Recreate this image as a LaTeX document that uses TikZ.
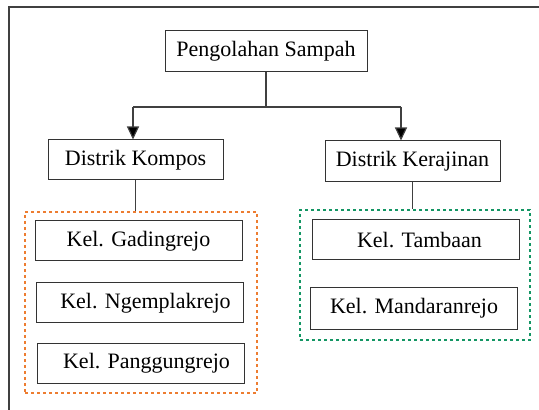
\documentclass[tikz,border=0pt]{standalone}
\usepackage{fontspec}
\setmainfont{Liberation Serif}
\usetikzlibrary{arrows.meta,positioning,calc}
\definecolor{kompos}{RGB}{237,125,49}
\definecolor{kerajinan}{RGB}{20,150,100}
\tikzset{
  box/.style={draw=black!80,line width=0.5pt,inner sep=0pt,font=\fontsize{11}{13}\selectfont},
  unit/.style={box,minimum width=103.5pt,minimum height=20pt},
  group/.style={line width=0.8pt,dash pattern=on 1.4pt off 1.6pt,inner sep=0pt},
  link/.style={draw=black!75,line width=0.6pt},
  down/.style={link,-{Triangle[width=6pt,length=6.5pt,fill=black]}},
}
\begin{document}
\begin{tikzpicture}[x=0.5pt,y=-0.5pt]
\useasboundingbox (0,0) rectangle (539,410);
\draw[black!75,line width=0.6pt] (9,410)--(9,7)--(539,7);
\node (top) at (266,51.5) [box,minimum width=101pt,minimum height=20.5pt] {Pengolahan Sampah};
\node (kompos) at (135.5,160) [box,minimum width=87.5pt,minimum height=20pt] {Distrik Kompos};
\node (kerajinan) at (412.5,161.5) [box,minimum width=87.5pt,minimum height=20.5pt] {Distrik Kerajinan};
\node (grpA) at (141,302.5) [group,draw=kompos,minimum width=116pt,minimum height=90.5pt] {};
\node (grpB) at (415,275) [group,draw=kerajinan,minimum width=115pt,minimum height=65pt] {};
\node (gading) at (138.5,241) [unit] {Kel. Gadingrejo};
\node (ngemplak) at (139.5,303) [unit] {\hspace{6pt}Kel. Ngemplakrejo};
\node (panggung) at (140.5,363) [unit] {\hspace{6pt}Kel. Panggungrejo};
\node (tambaan) at (415.5,240) [unit] {\hspace{4pt}Kel. Tambaan};
\node (mandaran) at (414,308.5) [unit,minimum height=20.5pt] {Kel. Mandaranrejo};
\coordinate (split) at (266,107);
\coordinate (jl) at (133,107);
\coordinate (jr) at (401,107);
\draw[link] (top)--(split);
\draw[link] (jl)--(jr);
\draw[down] (jl)--(jl |- kompos.north);
\draw[down] (jr)--(jr |- kerajinan.north);
\draw[link] (kompos.south)--(kompos.south |- grpA.north);
\draw[link] (kerajinan.south)--(kerajinan.south |- grpB.north);
\end{tikzpicture}
\end{document}
